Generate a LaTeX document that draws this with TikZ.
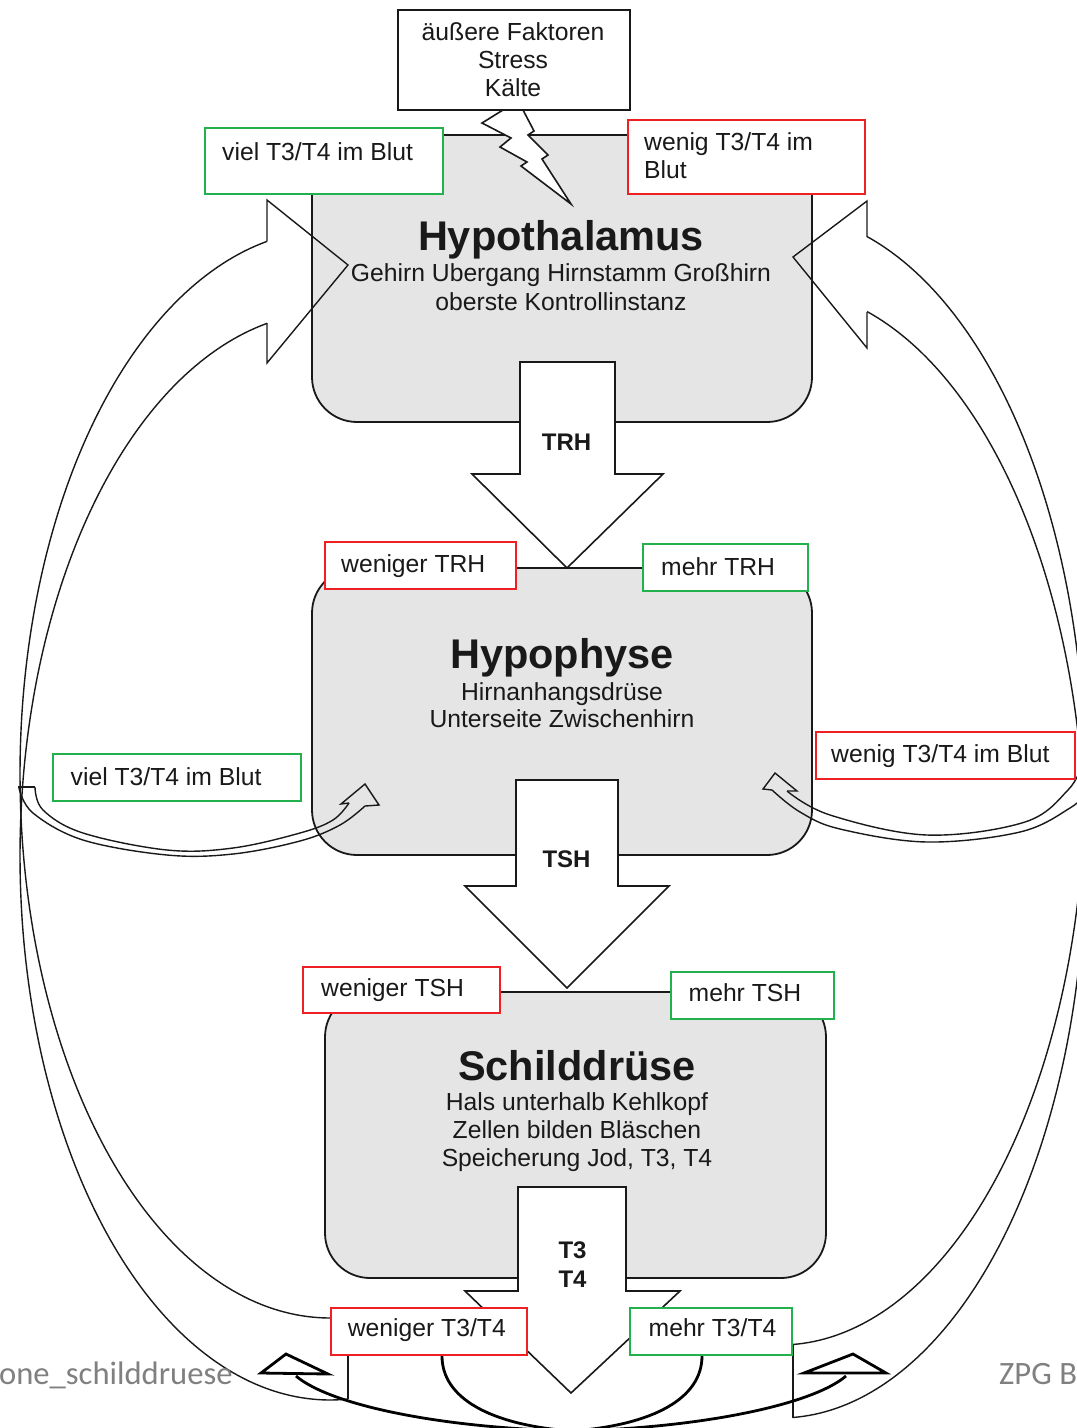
\documentclass[tikz,border=0pt]{standalone}
\usepackage{fontspec}
\setmainfont{Liberation Sans}
\newfontfamily\footfont{Carlito}
\definecolor{boxgray}{RGB}{229,229,229}
\definecolor{lblred}{RGB}{238,32,36}
\definecolor{lblgreen}{RGB}{34,177,76}
\definecolor{ink}{RGB}{25,25,25}
\definecolor{footgray}{RGB}{128,128,128}
\begin{document}
\begin{tikzpicture}[x=1pt,y=-1pt,
  organ/.style={draw=ink, line width=1.8pt, fill=boxgray, rounded corners=45pt, inner sep=0pt},
  factbox/.style={draw=ink, line width=1.8pt, fill=white, inner sep=0pt},
  redlbl/.style={draw=lblred, line width=1.6pt, fill=white, inner sep=0pt},
  greenlbl/.style={draw=lblgreen, line width=1.6pt, fill=white, inner sep=0pt},
  ctxt/.style={font=\fontsize{24.7}{28.5}\selectfont, text=ink, inner sep=0pt, anchor=base},
  ltxt/.style={font=\fontsize{24.7}{28.5}\selectfont, text=ink, inner sep=0pt, anchor=base west},
  organtitle/.style={font=\fontsize{41.5}{46}\selectfont\bfseries, text=ink, inner sep=0pt, anchor=base},
  hormone/.style={font=\fontsize{24}{28}\selectfont\bfseries, text=ink, inner sep=0pt, anchor=base},
  blockarrow/.style={draw=ink, line width=1.6pt, fill=white, line join=miter},
  fb/.style={draw=ink, line width=1.4pt},
  bottomcurve/.style={draw=black, line width=2.8pt},
  foot/.style={font=\footfont\fontsize{32.6}{36}\selectfont, text=footgray, inner sep=0pt, anchor=base west}
]
\useasboundingbox (0,0) rectangle (1077,1428);
\clip (0,0) rectangle (1077,1428);

% organ boxes
\node[organ, minimum width=500pt, minimum height=287pt] (hypo) at (562,278.5) {};
\node[organ, minimum width=500pt, minimum height=287pt] (hyph) at (562,711.5) {};
\node[organ, minimum width=501pt, minimum height=286pt] (schild) at (575.5,1135) {};

% block arrows
\draw[blockarrow] (520,362) -- (615,362) -- (615,474) -- (663,474) -- (567,568) -- (472,474) -- (520,474) -- cycle;
\draw[blockarrow] (516,780) -- (618,780) -- (618,886) -- (669,886) -- (567,988) -- (465,886) -- (516,886) -- cycle;
\draw[blockarrow] (518,1187) -- (626,1187) -- (626,1291) -- (680,1291) -- (571,1393) -- (465,1291) -- (518,1291) -- cycle;

% big left feedback arrow
\draw[fb] plot[domain=86.7:258.3, samples=160] ({330+310*cos(\x)},{774+544*sin(\x)});
\draw[fb] plot[domain=86.7:258.3, samples=160] ({330+310*cos(\x)},{856+544*sin(\x)});
\draw[fb] (348,1317) -- (348,1399);
\draw[fb, line join=miter] (267,241) -- (267,200) -- (348,265) -- (267,363) -- (267,323);

% big right feedback arrow
\draw[fb] plot[domain=-73.4:87.6, samples=160] ({780+305*cos(\x)},{779+566*sin(\x)});
\draw[fb] plot[domain=-73.4:87.6, samples=160] ({780+305*cos(\x)},{853+565*sin(\x)});
\draw[fb] (793,1344) -- (793,1418);
\draw[fb, line join=miter] (867,237) -- (867,201) -- (793,257) -- (867,348) -- (867,312);

% small left arrow
\draw[fb] plot[smooth, tension=0.6] coordinates {(35,787) (43,810) (83,833) (167,850) (233,848) (300,833) (333,820) (349,803)};
\draw[fb] plot[smooth, tension=0.6] coordinates {(19,788) (33,813) (83,840) (167,855) (233,854) (300,841) (340,825) (365,806)};
\draw[fb] (18,787) -- (35,787);
\draw[fb, line join=miter] (349,803) -- (341,804) -- (365,784) -- (379,805) -- (365,806);

% small right arrow
\draw[fb] plot[smooth, tension=0.6] coordinates {(787,791) (830,815) (927,835) (1025,822) (1068,790) (1082,765)};
\draw[fb] plot[smooth, tension=0.6] coordinates {(772,790) (800,812) (840,829) (927,842) (1020,832) (1070,808) (1090,790)};
\draw[fb, line join=miter] (772,790) -- (763,789) -- (775,773) -- (797,791) -- (787,791);

% bottom curved arrows
\draw[bottomcurve] (296,1376) .. controls (330,1405) and (440,1428) .. (572,1431);
\draw[bottomcurve] (846,1376) .. controls (812,1405) and (700,1428) .. (572,1431);
\draw[bottomcurve] (442,1356) .. controls (442,1398) and (490,1425) .. (572,1431);
\draw[bottomcurve] (702,1356) .. controls (702,1398) and (654,1425) .. (572,1431);
\draw[bottomcurve, fill=white, line join=miter] (261,1373) -- (286,1354) -- (328,1374) -- cycle;
\draw[bottomcurve, fill=white, line join=miter] (804,1373) -- (853,1354) -- (886,1373) -- cycle;

% lightning
\draw[blockarrow] (503,110) -- (482,123) -- (511,138) -- (500,147) -- (527,162) -- (521,166) -- (571,204) -- (542,159) -- (548,155) -- (528,135) -- (534,131) -- (523,110) -- cycle;

% external factors box
\node[factbox, minimum width=232pt, minimum height=100pt] (fakt) at (514,60) {};

% labels
\node[greenlbl, minimum width=238pt, minimum height=66pt] (viel1) at (324,161) {};
\node[redlbl, minimum width=237pt, minimum height=74pt] (wenig1) at (746.5,157) {};
\node[redlbl, minimum width=191pt, minimum height=47pt] (wenTRH) at (420.5,565.5) {};
\node[greenlbl, minimum width=165pt, minimum height=47pt] (mehrTRH) at (725.5,567.5) {};
\node[greenlbl, minimum width=248pt, minimum height=47pt] (viel2) at (177,777.5) {};
\node[redlbl, minimum width=259pt, minimum height=47pt] (wenig2) at (945.5,755.5) {};
\node[redlbl, minimum width=197pt, minimum height=46pt] (wenTSH) at (401.5,990) {};
\node[greenlbl, minimum width=163pt, minimum height=47pt] (mehrTSH) at (752.5,995.5) {};
\node[redlbl, minimum width=196pt, minimum height=47pt] (wenT) at (429,1331.5) {};
\node[greenlbl, minimum width=162pt, minimum height=47pt] (mehrT) at (711,1331.5) {};

% texts
\node[ctxt] (f1) at (513,40) {äußere Faktoren};
\node[ctxt] (f2) at (513,68.5) {Stress};
\node[ctxt] (f3) at (513,96.7) {Kälte};

\node[organtitle] (hypoT) at (561,250) {Hypothalamus};
\node[ctxt] (hypo1) at (561,281.7) {Gehirn Ubergang Hirnstamm Großhirn};
\node[ctxt] (hypo2) at (561,310) {oberste Kontrollinstanz};

\node[organtitle] (hyphT) at (562,668) {Hypophyse};
\node[ctxt] (hyph1) at (562,700) {Hirnanhangsdrüse};
\node[ctxt] (hyph2) at (562,727) {Unterseite Zwischenhirn};

\node[organtitle] (schildT) at (577,1080) {Schilddrüse};
\node[ctxt] (schild1) at (577,1110) {Hals unterhalb Kehlkopf};
\node[ctxt] (schild2) at (577,1138) {Zellen bilden Bläschen};
\node[ctxt] (schild3) at (577,1166.7) {Speicherung Jod, T3, T4};

\node[hormone] (trh) at (566.5,450) {TRH};
\node[hormone] (tsh) at (566.5,867) {TSH};
\node[hormone] (t3) at (572.5,1258) {T3};
\node[hormone] (t4) at (572.5,1287) {T4};

\node[ltxt] (viel1t) at (222,160) {viel T3/T4 im Blut};
\node[ltxt] (wenig1a) at (644,150) {wenig T3/T4 im};
\node[ltxt] (wenig1b) at (644,178.5) {Blut};
\node[ltxt] (wenTRHt) at (341,572.7) {weniger TRH};
\node[ltxt] (mehrTRHt) at (661,575) {mehr TRH};
\node[ltxt] (viel2t) at (70.5,785) {viel T3/T4 im Blut};
\node[ltxt] (wenig2t) at (831,762.7) {wenig T3/T4 im Blut};
\node[ltxt] (wenTSHt) at (321,996.7) {weniger TSH};
\node[ltxt] (mehrTSHt) at (688.5,1001.7) {mehr TSH};
\node[ltxt] (wenTt) at (347.7,1336.7) {weniger T3/T4};
\node[ltxt] (mehrTt) at (648.5,1336.7) {mehr T3/T4};

% footer
\node[foot] (footL) at (-1,1384) {one\_schilddruese};
\node[foot] (footR) at (999,1384) {ZPG B};
\end{tikzpicture}
\end{document}
